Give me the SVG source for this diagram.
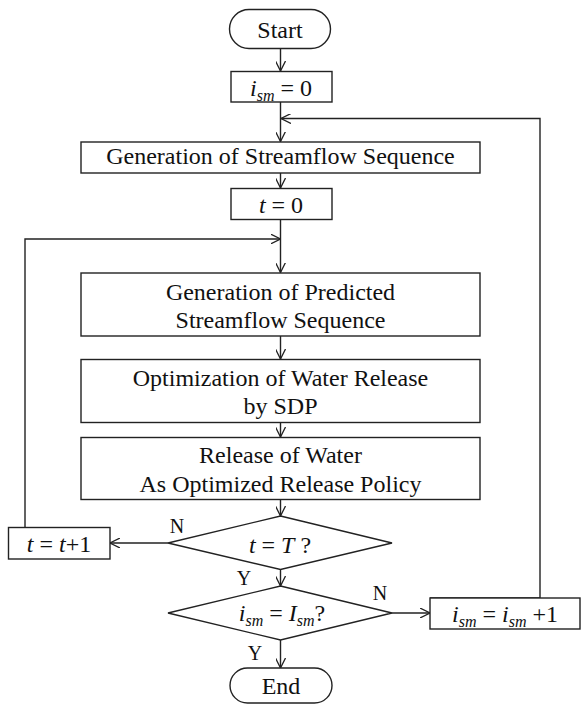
<svg xmlns="http://www.w3.org/2000/svg" width="581" height="704" viewBox="0 0 581 704">
<defs>
<marker id="arr" viewBox="0 0 10 10" refX="10" refY="5" markerWidth="10" markerHeight="10" markerUnits="userSpaceOnUse" orient="auto">
<path d="M0,0 L10,5 L0,10" fill="none" stroke="#222" stroke-width="1.3"/>
</marker>
<style>
.b{fill:#fff;stroke:#222;stroke-width:1.4}
.c{fill:none;stroke:#222;stroke-width:1.4}
.t{font-family:"Liberation Serif","Times New Roman",serif;font-size:24px;fill:#111;text-anchor:middle}
.l{font-family:"Liberation Serif","Times New Roman",serif;font-size:20px;fill:#111;text-anchor:middle}
.i{font-style:italic}
.s{font-style:italic;font-size:16px}
</style>
</defs>
<rect width="581" height="704" fill="#fff"/>
<g id="connectors">
<line class="c" x1="280.5" y1="48.5" x2="280.5" y2="71" marker-end="url(#arr)"/>
<line class="c" x1="280.5" y1="102" x2="280.5" y2="141.5" marker-end="url(#arr)"/>
<polyline class="c" points="430,598 540,598 540,118.5 281,118.5" marker-end="url(#arr)"/>
<line class="c" x1="280.5" y1="173" x2="280.5" y2="188" marker-end="url(#arr)"/>
<line class="c" x1="280.5" y1="219.5" x2="280.5" y2="272.5" marker-end="url(#arr)"/>
<polyline class="c" points="25,527 25,239 280.5,239" marker-end="url(#arr)"/>
<line class="c" x1="280.5" y1="336" x2="280.5" y2="359" marker-end="url(#arr)"/>
<line class="c" x1="280.5" y1="422.5" x2="280.5" y2="437" marker-end="url(#arr)"/>
<line class="c" x1="280.5" y1="499.5" x2="280.5" y2="516" marker-end="url(#arr)"/>
<line class="c" x1="168" y1="543" x2="110" y2="543" marker-end="url(#arr)"/>
<line class="c" x1="280.5" y1="569.5" x2="280.5" y2="586" marker-end="url(#arr)"/>
<line class="c" x1="392" y1="613" x2="430" y2="613" marker-end="url(#arr)"/>
<line class="c" x1="280.5" y1="640" x2="280.5" y2="668" marker-end="url(#arr)"/>
<text class="l" x="177" y="533">N</text>
<text class="l" x="244" y="585">Y</text>
<text class="l" x="380" y="600">N</text>
<text class="l" x="255" y="660">Y</text>
</g>
<g id="start">
<rect class="b" x="229.5" y="9.5" width="101" height="39" rx="19.5"/>
<text class="t" x="280" y="38">Start</text>
</g>
<g id="init-ism">
<rect class="b" x="231" y="71.5" width="101" height="30.5"/>
<text class="t" x="281" y="96"><tspan class="i">i</tspan><tspan class="s" dy="5">sm</tspan><tspan dy="-5"> = 0</tspan></text>
</g>
<g id="gen-seq">
<rect class="b" x="81" y="142" width="399" height="31"/>
<text class="t" x="280.5" y="164">Generation of Streamflow Sequence</text>
</g>
<g id="init-t">
<rect class="b" x="231" y="188.5" width="101" height="31"/>
<text class="t" x="281" y="213"><tspan class="i">t</tspan> = 0</text>
</g>
<g id="gen-pred">
<rect class="b" x="81" y="273" width="399" height="63"/>
<text class="t" x="280.5" y="300">Generation of Predicted</text>
<text class="t" x="280.5" y="328">Streamflow Sequence</text>
</g>
<g id="optim">
<rect class="b" x="81" y="359.5" width="399" height="63"/>
<text class="t" x="280.5" y="386">Optimization of Water Release</text>
<text class="t" x="280.5" y="414">by SDP</text>
</g>
<g id="release">
<rect class="b" x="81" y="437.5" width="399" height="62"/>
<text class="t" x="280.5" y="463">Release of Water</text>
<text class="t" x="280.5" y="491.5">As Optimized Release Policy</text>
</g>
<g id="dec-t">
<polygon class="b" points="280.5,516 392,543 280.5,569.5 168,543"/>
<text class="t" x="280" y="553"><tspan class="i">t</tspan> = <tspan class="i">T</tspan> ?</text>
</g>
<g id="inc-t">
<rect class="b" x="8.5" y="527.5" width="101.5" height="31.5"/>
<text class="t" x="59" y="552"><tspan class="i">t</tspan> = <tspan class="i">t</tspan>+1</text>
</g>
<g id="dec-ism">
<polygon class="b" points="280.5,586 392,613 280.5,640 168,613"/>
<text class="t" x="282" y="621"><tspan class="i">i</tspan><tspan class="s" dy="5">sm</tspan><tspan dy="-5"> = </tspan><tspan class="i">I</tspan><tspan class="s" dy="5">sm</tspan><tspan dy="-5">?</tspan></text>
</g>
<g id="inc-ism">
<rect class="b" x="430" y="598" width="150" height="31"/>
<text class="t" x="505" y="622"><tspan class="i">i</tspan><tspan class="s" dy="5">sm</tspan><tspan dy="-5"> = </tspan><tspan class="i">i</tspan><tspan class="s" dy="5">sm</tspan><tspan dy="-5"> +1</tspan></text>
</g>
<g id="end">
<rect class="b" x="230" y="668" width="102" height="35" rx="17.5"/>
<text class="t" x="281" y="694">End</text>
</g>
</svg>
